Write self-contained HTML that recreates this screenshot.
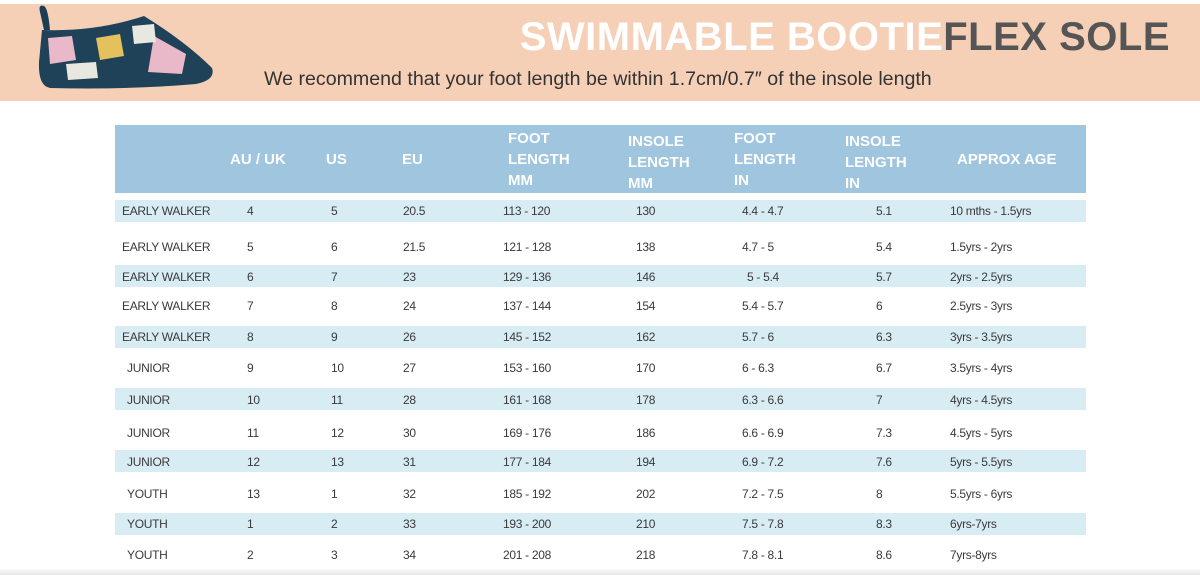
<!DOCTYPE html>
<html><head><meta charset="utf-8"><style>
body{margin:0;width:1200px;height:575px;background:#fff;position:relative;overflow:hidden;font-family:"Liberation Sans",sans-serif;color:#3a3a3a}
.a{position:absolute;white-space:nowrap}
.band{position:absolute;left:115px;width:971px;height:22px;background:#d8ecf4}
.h{position:absolute;color:#fff;font-weight:bold;font-size:15px;line-height:21px}
.c{position:absolute;font-size:12px;letter-spacing:-0.3px;transform:translateY(-50%)}
</style></head><body>
<div class="a" style="left:0;top:4px;width:1200px;height:97px;background:#f5cfb6"></div>
<svg class="a" style="left:36px;top:2px" width="184" height="92" viewBox="0 0 184 92">
<path d="M4 10 Q2 2 8 4 Q12 6 14 28 L8 28 Z" fill="#1e3d54"/>
<path d="M6 28 Q60 30 108 14 Q150 40 176 66 Q180 78 160 82 Q90 88 14 86 Q2 84 3 60 Z" fill="#1f4258"/>
<path d="M12 36 L36 34 L40 58 L14 62 Z" fill="#e9b9c9"/>
<path d="M118 34 L150 52 L146 72 L112 70 Z" fill="#e9b9c9"/>
<path d="M60 36 L84 32 L88 54 L64 58 Z" fill="#e4c15c"/>
<path d="M96 24 L118 22 L120 40 L98 42 Z" fill="#e8e8e0"/>
<path d="M30 62 L60 60 L62 76 L32 78 Z" fill="#e8e8e0"/>
</svg>
<div class="a" style="right:30px;top:14px;font-size:40px;font-weight:bold;letter-spacing:0.5px;line-height:46px"><span style="color:#fff">SWIMMABLE BOOTIE</span><span style="color:#555">FLEX SOLE</span></div>
<div class="a" style="left:264px;top:67px;font-size:19.6px;color:#333;line-height:24px">We recommend that your foot length be within 1.7cm/0.7″ of the insole length</div>
<div class="a" style="left:115px;top:125px;width:971px;height:68px;background:#9fc5df"></div>
<div class="h" style="left:230px;top:149px">AU / UK</div>
<div class="h" style="left:326px;top:149px">US</div>
<div class="h" style="left:402px;top:149px">EU</div>
<div class="h" style="left:508px;top:128px">FOOT<br>LENGTH<br>MM</div>
<div class="h" style="left:628px;top:131px">INSOLE<br>LENGTH<br>MM</div>
<div class="h" style="left:734px;top:128px">FOOT<br>LENGTH<br>IN</div>
<div class="h" style="left:845px;top:131px">INSOLE<br>LENGTH<br>IN</div>
<div class="h" style="left:957px;top:149px">APPROX AGE</div>
<div class="band" style="top:200px"></div>
<div class="band" style="top:265px"></div>
<div class="band" style="top:326px"></div>
<div class="band" style="top:388px"></div>
<div class="band" style="top:450px"></div>
<div class="band" style="top:513px"></div>
<div id="rows"></div>
<script>
var d=[["EARLY WALKER","4","5","20.5","113 - 120","130","4.4 - 4.7","5.1","10 mths - 1.5yrs",211],
["EARLY WALKER","5","6","21.5","121 - 128","138","4.7 - 5","5.4","1.5yrs - 2yrs",247],
["EARLY WALKER","6","7","23","129 - 136","146"," 5 - 5.4","5.7","2yrs - 2.5yrs",277],
["EARLY WALKER","7","8","24","137 - 144","154","5.4 - 5.7","6","2.5yrs - 3yrs",306],
["EARLY WALKER","8","9","26","145 - 152","162","5.7 - 6","6.3","3yrs - 3.5yrs",337],
[" JUNIOR","9","10","27","153 - 160","170","6 - 6.3","6.7","3.5yrs - 4yrs",368],
[" JUNIOR","10","11","28","161 - 168","178","6.3 - 6.6","7","4yrs - 4.5yrs",400],
[" JUNIOR","11","12","30","169 - 176","186","6.6 - 6.9","7.3","4.5yrs - 5yrs",433],
[" JUNIOR","12","13","31","177 - 184","194","6.9 - 7.2","7.6","5yrs - 5.5yrs",462],
[" YOUTH","13","1","32","185 - 192","202","7.2 - 7.5","8","5.5yrs - 6yrs",494],
[" YOUTH","1","2","33","193 - 200","210","7.5 - 7.8","8.3","6yrs-7yrs",524],
[" YOUTH","2","3","34","201 - 208","218","7.8 - 8.1","8.6","7yrs-8yrs",555]];
var xs=[122,247,331,403,503,636,742,876,950],h="";
d.forEach(function(r){for(var i=0;i<9;i++){var t=r[i],x=xs[i];if(t[0]==" "){x+=5;t=t.trim();}
h+='<div class="c" style="left:'+x+'px;top:'+r[9]+'px">'+t+'</div>';}});
document.getElementById("rows").innerHTML=h;
</script>
<div class="a" style="left:0;top:568px;width:1200px;height:7px;background:linear-gradient(#fff,#e6e6e6)"></div>
</body></html>
